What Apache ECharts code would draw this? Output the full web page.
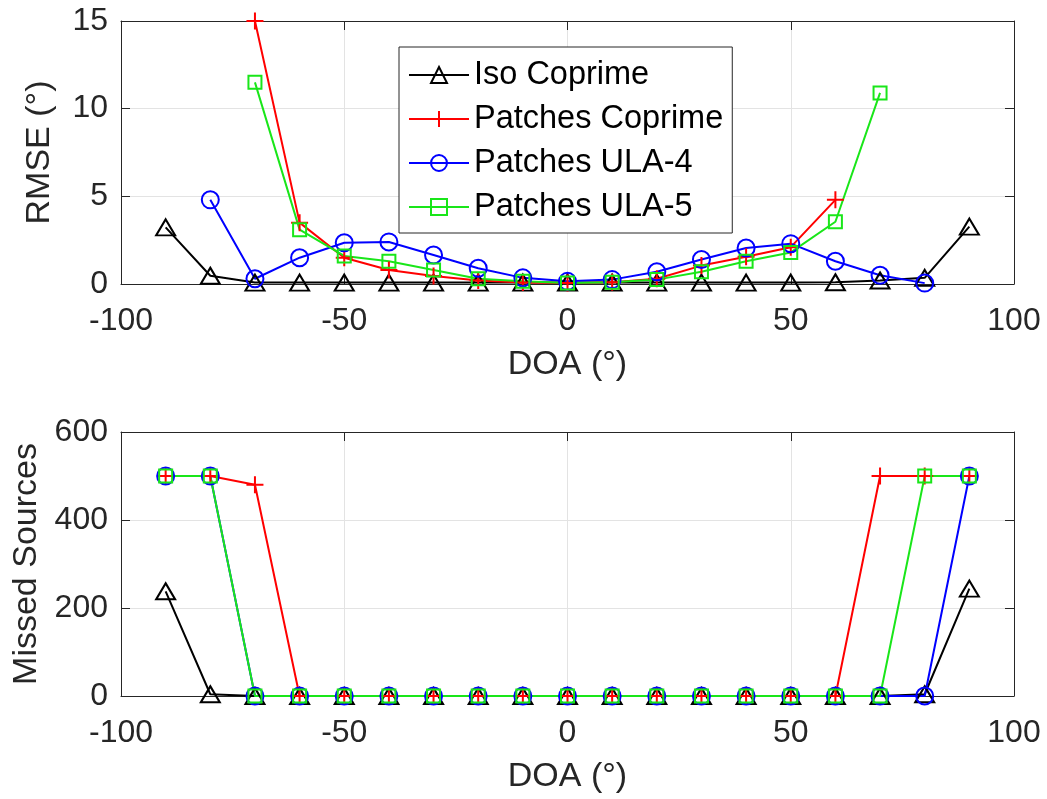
<!DOCTYPE html>
<html>
<head>
<meta charset="utf-8">
<script src="https://cdn.jsdelivr.net/npm/echarts@6/dist/echarts.min.js"></script>
<style>
  html, body { margin: 0; padding: 0; background: #fff; }
  #chart { width: 1047px; height: 799px; }
</style>
</head>
<body>
<div id="chart"></div>
<script>
// Direction of arrival (degrees)
const doa = [-90, -80, -70, -60, -50, -40, -30, -20, -10, 0, 10, 20, 30, 40, 50, 60, 70, 80, 90];

// RMSE (degrees); null where every source was missed
const isoRmse   = [3.23, 0.47, 0.08, 0.08, 0.08, 0.08, 0.08, 0.08, 0.08, 0.08, 0.08, 0.08, 0.08, 0.08, 0.08, 0.1, 0.2, 0.35, 3.27];
const patchCopRmse = [null, null, 15.0, 3.5, 1.5, 0.8, 0.45, 0.2, 0.08, 0.05, 0.1, 0.3, 1.05, 1.55, 2.1, 4.8, null, null, null];
const ula4Rmse  = [null, 4.8, 0.3, 1.5, 2.35, 2.4, 1.65, 0.9, 0.35, 0.15, 0.25, 0.7, 1.4, 2.05, 2.3, 1.3, 0.5, 0.05, null];
const ula5Rmse  = [null, null, 11.5, 3.1, 1.6, 1.3, 0.8, 0.3, 0.15, 0.05, 0.1, 0.25, 0.7, 1.3, 1.8, 3.55, 10.9, null, null];

// Number of missed sources
const isoMiss   = [238, 4, 0, 0, 0, 0, 0, 0, 0, 0, 0, 0, 0, 0, 0, 0, 0, 4, 244];
const patchCopMiss = [500, 500, 480, 0, 0, 0, 0, 0, 0, 0, 0, 0, 0, 0, 0, 0, 500, 500, 500];
const ula4Miss  = [500, 500, 0, 0, 0, 0, 0, 0, 0, 0, 0, 0, 0, 0, 0, 0, 0, 0, 500];
const ula5Miss  = [500, 500, 0, 0, 0, 0, 0, 0, 0, 0, 0, 0, 0, 0, 0, 0, 0, 500, 500];

const seriesNames = ['Iso Coprime', 'Patches Coprime', 'Patches ULA-4', 'Patches ULA-5'];

const FONT = 'Liberation Sans, Arial, Helvetica, sans-serif';
const AXIS_COLOR = '#262626';
const GRID_COLOR = '#e3e3e3';

const styles = [
  { color: '#000000', symbol: 'triangle', size: [19, 16] },
  { color: '#ff0000', symbol: 'path://M5,0L5,10M0,5L10,5', size: 17 },
  { color: '#0000ff', symbol: 'circle', size: 17 },
  { color: '#19e619', symbol: 'rect', size: 13 }
];

function pairs(values) {
  const out = [];
  values.forEach((v, i) => { if (v !== null) out.push([doa[i], v]); });
  return out;
}

function makeSeries(name, values, style, axisIdx) {
  return {
    name: name,
    type: 'line',
    xAxisIndex: axisIdx,
    yAxisIndex: axisIdx,
    data: pairs(values),
    symbol: style.symbol,
    symbolSize: style.size,
    showAllSymbol: true,
    lineStyle: { color: style.color, width: 2 },
    itemStyle: { color: 'rgba(255,255,255,0)', borderColor: style.color, borderWidth: 2 },
    emphasis: { disabled: true },
    z: 3
  };
}

function xAxes(gridIndex) {
  const common = {
    type: 'value', gridIndex: gridIndex, min: -100, max: 100, interval: 50
  };
  return [
    Object.assign({}, common, {
      position: 'bottom',
      name: 'DOA (°)',
      nameLocation: 'middle',
      nameGap: 64,
      nameTextStyle: { fontFamily: FONT, fontSize: 34, color: AXIS_COLOR },
      axisLine: { show: true, onZero: false, lineStyle: { color: AXIS_COLOR, width: 1 } },
      axisTick: { show: true, inside: true, length: 9, lineStyle: { color: AXIS_COLOR } },
      axisLabel: { margin: 21, fontFamily: FONT, fontSize: 32, color: AXIS_COLOR },
      splitLine: { show: true, lineStyle: { color: GRID_COLOR, width: 1 } }
    }),
    Object.assign({}, common, {
      position: 'top',
      axisLine: { show: true, onZero: false, lineStyle: { color: AXIS_COLOR, width: 1 } },
      axisTick: { show: true, inside: true, length: 9, lineStyle: { color: AXIS_COLOR } },
      axisLabel: { show: false },
      splitLine: { show: false }
    })
  ];
}

function yAxes(gridIndex, max, interval, name, gap) {
  const common = { type: 'value', gridIndex: gridIndex, min: 0, max: max, interval: interval };
  return [
    Object.assign({}, common, {
      position: 'left',
      name: name,
      nameLocation: 'middle',
      nameGap: gap,
      nameTextStyle: { fontFamily: FONT, fontSize: 34, color: AXIS_COLOR },
      axisLine: { show: true, onZero: false, lineStyle: { color: AXIS_COLOR, width: 1 } },
      axisTick: { show: true, inside: true, length: 9, lineStyle: { color: AXIS_COLOR } },
      axisLabel: { margin: 13, fontFamily: FONT, fontSize: 32, color: AXIS_COLOR },
      splitLine: { show: true, lineStyle: { color: GRID_COLOR, width: 1 } }
    }),
    Object.assign({}, common, {
      position: 'right',
      axisLine: { show: true, onZero: false, lineStyle: { color: AXIS_COLOR, width: 1 } },
      axisTick: { show: true, inside: true, length: 9, lineStyle: { color: AXIS_COLOR } },
      axisLabel: { show: false },
      splitLine: { show: false }
    })
  ];
}

const rmseSets = [isoRmse, patchCopRmse, ula4Rmse, ula5Rmse];
const missSets = [isoMiss, patchCopMiss, ula4Miss, ula5Miss];

const series = [];
seriesNames.forEach((n, i) => series.push(makeSeries(n, rmseSets[i], styles[i], 0)));
seriesNames.forEach((n, i) => series.push(makeSeries(n, missSets[i], styles[i], 2)));

const chart = echarts.init(document.getElementById('chart'), null, { renderer: 'canvas' });
chart.setOption({
  animation: false,
  backgroundColor: '#ffffff',
  grid: [
    { left: 121, right: 33, top: 21, height: 263, containLabel: false },
    { left: 121, right: 33, top: 432, height: 264, containLabel: false }
  ],
  xAxis: xAxes(0).concat(xAxes(1)),
  yAxis: yAxes(0, 15, 5, 'RMSE (°)', 64).concat(yAxes(1, 600, 200, 'Missed Sources', 73)),
  legend: {
    data: seriesNames,
    orient: 'vertical',
    left: 399,
    top: 47,
    padding: [10, 9, 8, 9],
    itemGap: 8,
    itemWidth: 60,
    itemHeight: 20,
    itemTextGap: 9,
    backgroundColor: '#ffffff',
    borderColor: AXIS_COLOR,
    borderWidth: 1,
    borderRadius: 0,
    selectedMode: false,
    textStyle: { fontFamily: FONT, fontSize: 32.5, color: '#000000', lineHeight: 36 }
  },
  series: series
});
</script>
</body>
</html>
